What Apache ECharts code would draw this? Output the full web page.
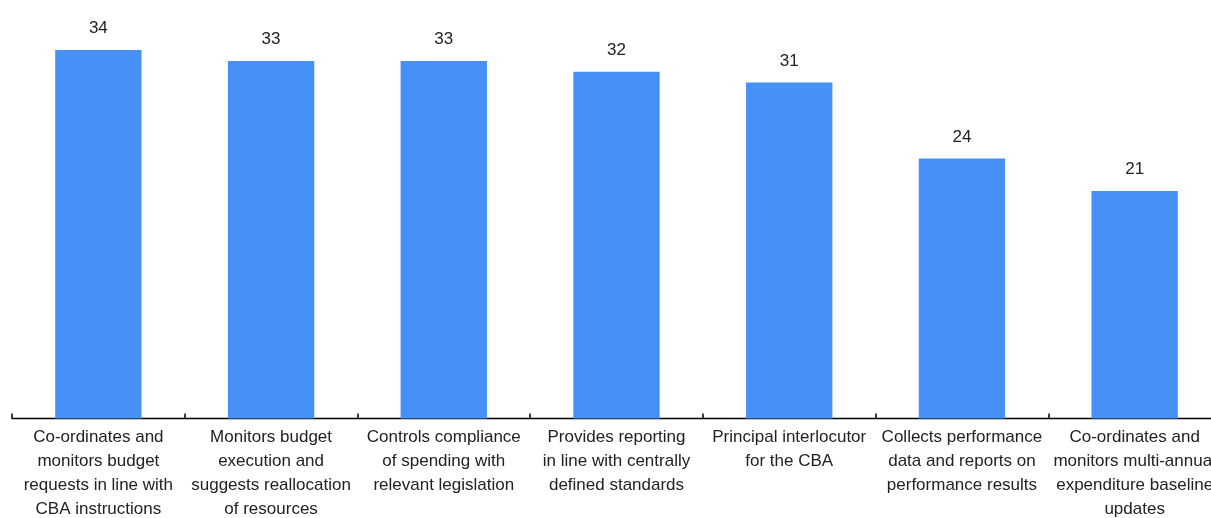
<!DOCTYPE html>
<html>
<head>
<meta charset="utf-8">
<script src="https://cdn.jsdelivr.net/npm/echarts@6/dist/echarts.min.js"></script>
<style>html,body{margin:0;padding:0;background:#fff;}#c{width:1211px;height:518px;}</style>
</head>
<body>
<div id="c"></div>
<script>
const categories = [
  "Co-ordinates and\nmonitors budget\nrequests in line with\nCBA instructions",
  "Monitors budget\nexecution and\nsuggests reallocation\nof resources",
  "Controls compliance\nof spending with\nrelevant legislation",
  "Provides reporting\nin line with centrally\ndefined standards",
  "Principal interlocutor\nfor the CBA",
  "Collects performance\ndata and reports on\nperformance results",
  "Co-ordinates and\nmonitors multi-annual\nexpenditure baseline\nupdates"
];
const values = [34, 33, 33, 32, 31, 24, 21];

const chart = echarts.init(document.getElementById('c'), null, {renderer: 'canvas'});
chart.setOption({
  animation: false,
  grid: {left: 12, width: 1209, top: 28.4, height: 390, containLabel: false, outerBoundsMode: 'none'},
  xAxis: {
    type: 'category',
    data: categories,
    axisLine: {lineStyle: {color: '#000', width: 1.3}},
    axisTick: {show: true, inside: true, length: 5, alignWithLabel: false, lineStyle: {color: '#000', width: 1.5}},
    axisLabel: {interval: 0, color: '#222', fontFamily: 'Liberation Sans, Arial, sans-serif', fontSize: 17, lineHeight: 24, margin: 7}
  },
  yAxis: {
    type: 'value', min: 0, max: 36, show: false,
    splitLine: {show: false}
  },
  series: [{
    type: 'bar',
    data: values,
    barWidth: '50%',
    itemStyle: {color: '#4791F6'},
    label: {show: true, position: 'top', distance: 13, color: '#222', fontFamily: 'Liberation Sans, Arial, sans-serif', fontSize: 17}
  }]
});
</script>
</body>
</html>
